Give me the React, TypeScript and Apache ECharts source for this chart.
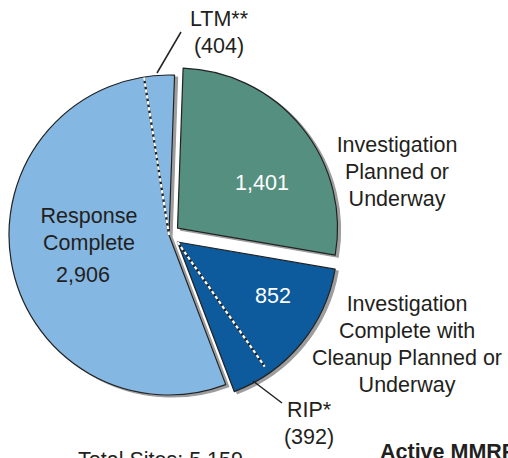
import React, { useEffect, useRef } from 'react';
import * as echarts from 'echarts';

const categories = [
  'Investigation Planned or Underway',
  'Investigation Complete with Cleanup Planned or Underway',
  'Response Complete',
];
const siteCounts = [1401, 852, 2906];
const subsetNames = ['LTM**', 'RIP*'];
const subsetCounts = [404, 392];
const totalSites = 5159;
const explodedSlices = [true, true, false];
const sliceColors = ['#548f80', '#0a5a9c', '#84b7e2'];

const W = 508;
const H = 458;
const CX = 169;
const CY = 235;
const R = 160;
const START_ANGLE = 88;
const SEL_OFFSET = 11;
const FONT = '"Liberation Sans", Arial, Helvetica, sans-serif';
const FS = 21.5;
const TXT = '#231f20';

const fmt = (n: number) => n.toLocaleString('en-US');

export default function App() {
  const ref = useRef<HTMLDivElement>(null);
  useEffect(() => {
    if (!ref.current) return;
    const chart = echarts.init(ref.current, undefined, { renderer: 'svg', width: W, height: H });
    const sum = siteCounts.reduce((a, b) => a + b, 0);
    // clockwise angle from 12 o'clock
    const base = 90 - START_ANGLE;
    const starts: number[] = [];
    let acc = 0;
    siteCounts.forEach((v) => {
      starts.push(base + (acc / sum) * 360);
      acc += v;
    });
    const rad = (d: number) => (d * Math.PI) / 180;
    const offsetOf = (i: number) => {
      if (!explodedSlices[i]) return [0, 0];
      const mid = starts[i] + (siteCounts[i] / sum) * 180;
      return [Math.sin(rad(mid)) * SEL_OFFSET, -Math.cos(rad(mid)) * SEL_OFFSET];
    };
    const pt = (deg: number, r: number, o: number[]) => [
      CX + o[0] + r * Math.sin(rad(deg)),
      CY + o[1] - r * Math.cos(rad(deg)),
    ];
    // dashed split lines (schematic subsets)
    const ltmDeg = 351;
    const ripDeg = 145;
    const oLtm = offsetOf(2);
    const oRip = offsetOf(1);
    const l0 = pt(0, 0, oLtm);
    const l1 = pt(ltmDeg, R, oLtm);
    const r0 = pt(0, 0, oRip);
    const r1 = pt(ripDeg, R * 0.95, oRip);

    const dashed = (a: number[], b: number[]) => [
      {
        type: 'line',
        shape: { x1: a[0], y1: a[1], x2: b[0], y2: b[1] },
        style: { stroke: '#222', lineWidth: 2.2 },
        z: 10,
      },
      {
        type: 'line',
        shape: { x1: a[0], y1: a[1], x2: b[0], y2: b[1] },
        style: { stroke: '#fff', lineWidth: 2.2, lineDash: [3.5, 2.5] },
        z: 11,
      },
    ];

    const text = (t: string, x: number, y: number, extra: any = {}) => ({
      type: 'text',
      x,
      y,
      z: 12,
      style: {
        text: t,
        fontSize: FS,
        fontFamily: FONT,
        fill: TXT,
        align: 'center',
        verticalAlign: 'middle',
        lineHeight: 27,
        ...extra,
      },
    });

    chart.setOption({
      animation: false,
      series: [
        {
          type: 'pie',
          center: [CX, CY],
          radius: R,
          startAngle: START_ANGLE,
          clockwise: true,
          selectedMode: 'multiple',
          selectedOffset: SEL_OFFSET,
          label: { show: false },
          labelLine: { show: false },
          emphasis: { disabled: true },
          silent: true,
          itemStyle: {
            borderColor: '#222',
            borderWidth: 1.2,
            shadowColor: 'rgba(90,90,90,0.6)',
            shadowOffsetX: 3,
            shadowOffsetY: 2,
            shadowBlur: 0,
          },
          data: categories.map((c, i) => ({
            name: c,
            value: siteCounts[i],
            selected: explodedSlices[i],
            itemStyle: { color: sliceColors[i] },
          })),
        },
      ],
      graphic: [
        ...dashed(l0, l1),
        ...dashed(r0, r1),
        {
          type: 'line',
          shape: { x1: 157, y1: 73, x2: 181, y2: 32 },
          style: { stroke: '#222', lineWidth: 1.5 },
          z: 12,
        },
        {
          type: 'line',
          shape: { x1: 253, y1: 381, x2: 282, y2: 403 },
          style: { stroke: '#222', lineWidth: 1.5 },
          z: 12,
        },
        text('Investigation\nPlanned or\nUnderway', 397, 172),
        text(fmt(siteCounts[0]), 262, 183, { fill: '#fff' }),
        text('Investigation\nComplete with\nCleanup Planned or\nUnderway', 407, 344),
        text(fmt(siteCounts[1]), 273, 296, { fill: '#fff' }),
        text('Response\nComplete', 89, 229),
        text(fmt(siteCounts[2]), 83, 275),
        text(subsetNames[0] + '\n(' + fmt(subsetCounts[0]) + ')', 219, 32),
        text(subsetNames[1] + '\n(' + fmt(subsetCounts[1]) + ')', 309, 423),
        text('Total Sites: ' + fmt(totalSites), 78, 460, { align: 'left' }),
        text('Active MMRP', 380, 452, { align: 'left', fontWeight: 'bold' }),
      ],
    });
    return () => chart.dispose();
  }, []);
  return (
    <div
      ref={ref}
      style={{ position: 'absolute', left: 0, top: 0, width: W, height: H, background: '#fff' }}
    />
  );
}
